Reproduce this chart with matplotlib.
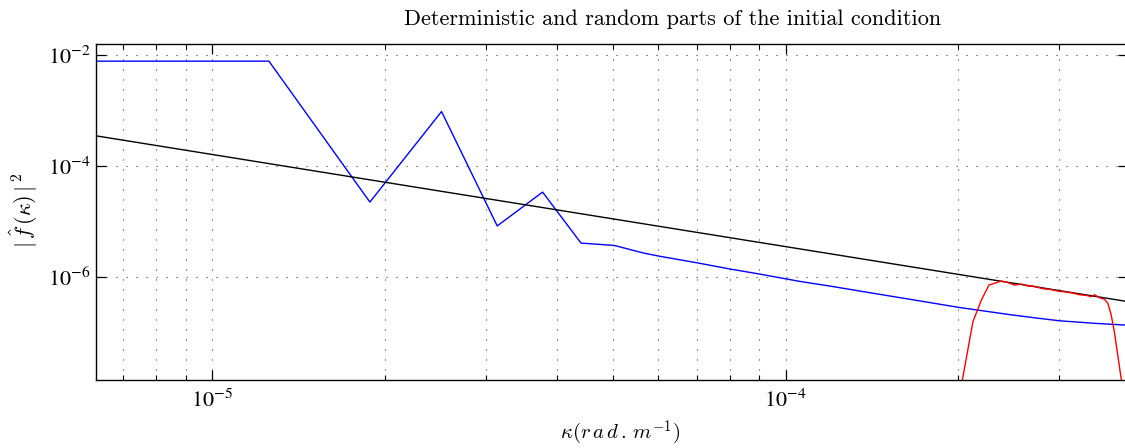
import math
import matplotlib
matplotlib.use('Agg')
import matplotlib.pyplot as plt
from matplotlib.ticker import FixedLocator, LogLocator, NullLocator, FuncFormatter

plt.rcParams['mathtext.fontset'] = 'stix'
plt.rcParams['font.family'] = ['Liberation Serif', 'DejaVu Serif']

# deterministic part (blue)
kappa_det = [6.28e-6, 1.257e-5, 1.885e-5, 2.513e-5, 3.142e-5, 3.770e-5, 4.398e-5,
             5.027e-5, 5.655e-5, 6.0e-5, 7.0e-5, 8.0e-5, 9.0e-5, 1.057e-4, 1.193e-4,
             1.412e-4, 1.678e-4, 2.0e-4, 2.455e-4, 2.716e-4, 3.0e-4, 3.453e-4, 3.95e-4]
spec_det = [7.9e-3, 7.9e-3, 2.24e-5, 9.7e-4, 8.3e-6, 3.39e-5, 4.06e-6,
            3.68e-6, 2.68e-6, 2.37e-6, 1.79e-6, 1.38e-6, 1.12e-6, 8.26e-7, 6.8e-7,
            5.08e-7, 3.79e-7, 2.8e-7, 2.07e-7, 1.81e-7, 1.6e-7, 1.44e-7, 1.33e-7]

# -5/3 reference slope (black)
kappa_ref = [6.28e-6, 3.95e-4]
spec_ref = [3.53e-4, 3.55e-7]

# random part (red)
kappa_rnd = [2.021e-4, 2.12e-4, 2.193e-4, 2.261e-4, 2.376e-4, 2.424e-4, 2.506e-4,
             2.574e-4, 2.643e-4, 2.697e-4, 2.808e-4, 2.884e-4, 2.981e-4, 3.083e-4,
             3.146e-4, 3.252e-4, 3.341e-4, 3.408e-4, 3.453e-4, 3.524e-4, 3.595e-4,
             3.643e-4, 3.693e-4, 3.743e-4, 3.863e-4]
spec_rnd = [1.0e-8, 1.54e-7, 3.8e-7, 7.08e-7, 8.36e-7, 8.02e-7, 7.08e-7,
            7.38e-7, 6.79e-7, 6.79e-7, 6.07e-7, 5.92e-7, 5.51e-7, 5.29e-7,
            5.14e-7, 4.73e-7, 4.61e-7, 4.35e-7, 4.73e-7, 4.17e-7, 3.91e-7,
            3.31e-7, 2.03e-7, 9.49e-8, 1.0e-8]

yticks = [1e-6, 1e-4, 1e-2]
xticks = [1e-5, 1e-4]


def log_label(v, pos):
    return r'$10^{%d}$' % int(round(math.log10(v)))


fig = plt.figure(figsize=(11.25, 4.48), dpi=100)
ax = fig.add_axes([96 / 1125, 1 - 380 / 448, 1032 / 1125, (380 - 44.5) / 448])

ax.plot(kappa_det, spec_det, color='#0000ff', linewidth=1.0)
ax.plot(kappa_ref, spec_ref, color='black', linewidth=1.0)
ax.plot(kappa_rnd, spec_rnd, color='#ff0000', linewidth=1.0)

ax.set_xscale('log')
ax.set_yscale('log')
ax.set_xlim(6.28e-6, 3.95e-4)
ax.set_ylim(1.36e-8, 1.58e-2)

ax.xaxis.set_major_locator(FixedLocator(xticks))
ax.xaxis.set_minor_locator(LogLocator(base=10, subs=range(2, 10)))
ax.yaxis.set_major_locator(FixedLocator(yticks))
ax.yaxis.set_minor_locator(NullLocator())
ax.xaxis.set_major_formatter(FuncFormatter(log_label))
ax.yaxis.set_major_formatter(FuncFormatter(log_label))

ax.tick_params(which='both', direction='in', top=True, right=True)
ax.tick_params(which='major', length=7, width=0.9, labelsize=16)
ax.tick_params(which='minor', length=3.6, width=0.8)
ax.tick_params(axis='x', which='major', pad=7)
ax.tick_params(axis='y', which='major', pad=4)

grid_style = dict(color='0.25', linestyle=(0, (1, 8)), linewidth=0.8)
ax.grid(True, which='major', **grid_style)
ax.xaxis.grid(True, which='minor', **grid_style)

for s in ax.spines.values():
    s.set_linewidth(1.0)

fig.text(673 / 1125, 1 - 19 / 448, 'Deterministic and random parts of the initial condition',
         fontfamily='cmr10', fontsize=16, ha='center', va='center')
fig.text(620 / 1125, 1 - 433 / 448, r'$\kappa(r\,a\,d\,.\,m^{-1})$',
         math_fontfamily='cm', fontsize=15, ha='center', va='center')
fig.text(24 / 1125, 1 - 210 / 448, r'$|\,\hat{f}\,(\kappa)\,|^{\,2}$',
         math_fontfamily='cm', fontsize=16, ha='center', va='center', rotation=90)

fig.savefig('out.png', dpi=100)
